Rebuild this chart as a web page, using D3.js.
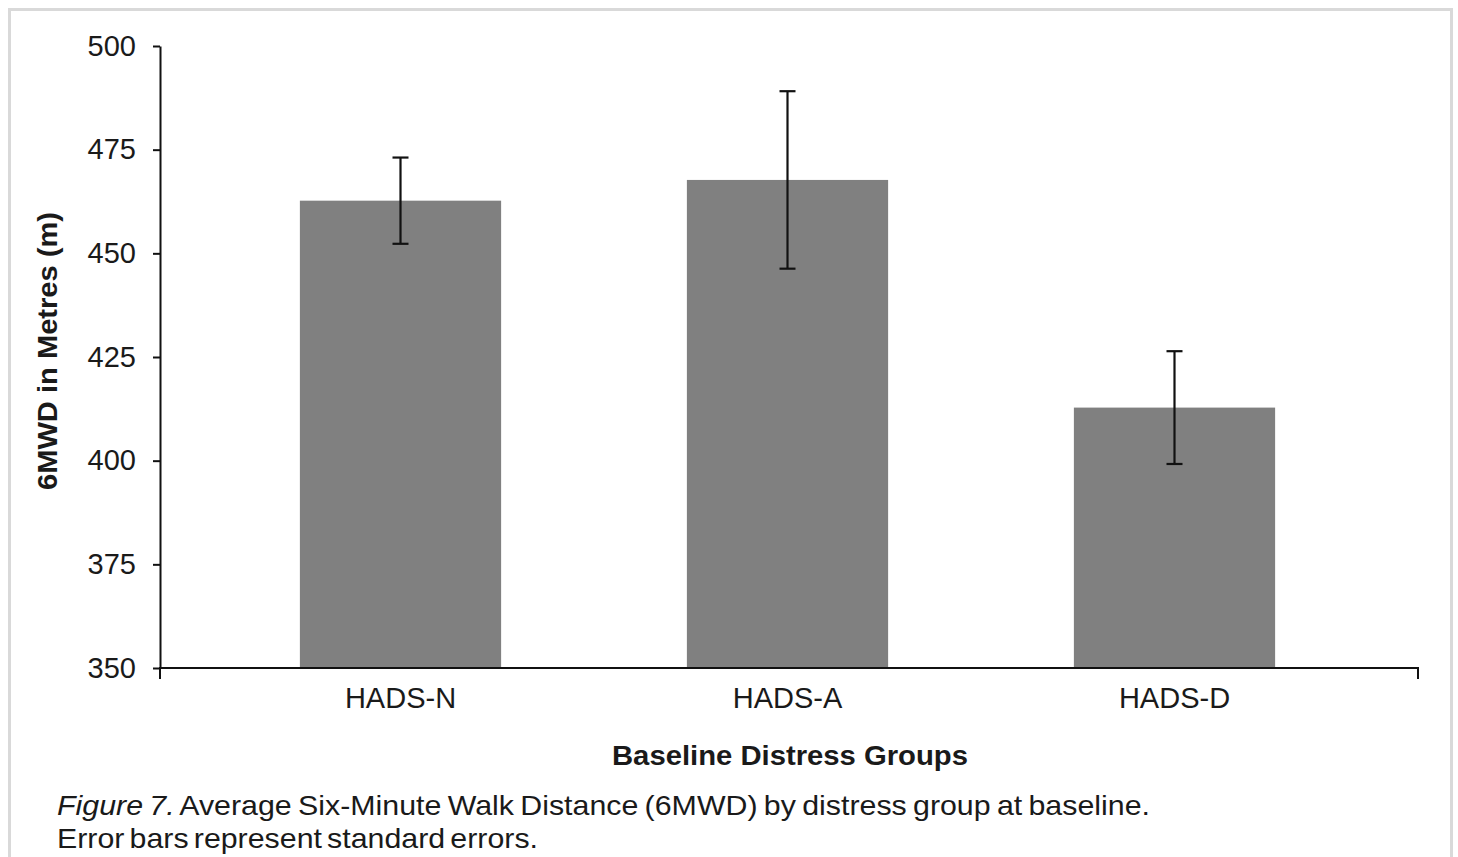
<!DOCTYPE html>
<html>
<head>
<meta charset="utf-8">
<script src="https://cdn.jsdelivr.net/npm/d3@7"></script>
<style>
  body { margin: 0; background: #fff; }
  text { font-family: "Liberation Sans", Arial, Helvetica, sans-serif; fill: #1a1a1a; }
</style>
</head>
<body>
<div id="chart_placeholder"></div>
<script>
// values
var groups = ["HADS-N", "HADS-A", "HADS-D"];
var means = [462.7, 467.7, 412.8];
var stdErrors = [10.4, 21.4, 13.6];
var yTicks = [350, 375, 400, 425, 450, 475, 500];

var W = 1458, H = 857;

var svg = d3.select("#chart_placeholder")
  .append("svg")
  .attr("width", W)
  .attr("height", H);

// light frame round the figure
svg.append("path")
  .attr("d", "M9.5," + H + "V9.5H1451.5V" + H)
  .attr("fill", "none")
  .attr("stroke", "#d9d9d9")
  .attr("stroke-width", 3);

var y = d3.scaleLinear().domain([350, 500]).range([668, 46]);

var x = d3.scaleBand()
  .domain(groups)
  .range([207, 1368])
  .paddingInner(0.48)
  .paddingOuter(0.24);

var data = groups.map(function(g, i) {
  return {group: g, mean: means[i], se: stdErrors[i]};
});

// bars
svg.selectAll("rect.bar")
  .data(data)
  .enter().append("rect")
  .attr("class", "bar")
  .attr("x", function(d) { return x(d.group); })
  .attr("y", function(d) { return y(d.mean); })
  .attr("width", x.bandwidth())
  .attr("height", function(d) { return y(350) - y(d.mean); })
  .attr("fill", "#808080");

// error bars
var eb = svg.selectAll("g.err")
  .data(data)
  .enter().append("g")
  .attr("class", "err")
  .attr("stroke", "#111")
  .attr("stroke-width", 2.2);

eb.append("line")
  .attr("x1", function(d) { return x(d.group) + x.bandwidth() / 2; })
  .attr("x2", function(d) { return x(d.group) + x.bandwidth() / 2; })
  .attr("y1", function(d) { return y(d.mean + d.se); })
  .attr("y2", function(d) { return y(d.mean - d.se); });

[1, -1].forEach(function(s) {
  eb.append("line")
    .attr("x1", function(d) { return x(d.group) + x.bandwidth() / 2 - 8; })
    .attr("x2", function(d) { return x(d.group) + x.bandwidth() / 2 + 8; })
    .attr("y1", function(d) { return y(d.mean + s * d.se); })
    .attr("y2", function(d) { return y(d.mean + s * d.se); });
});

// y axis
var yAxis = svg.append("g")
  .attr("transform", "translate(160,0)")
  .call(d3.axisLeft(y).tickValues(yTicks).tickSize(7).tickSizeOuter(0).tickPadding(17));
yAxis.selectAll("path, line").attr("stroke", "#111").attr("stroke-width", 2);
yAxis.selectAll("text").attr("font-size", 29).attr("font-family", "Liberation Sans, Arial, sans-serif").attr("fill", "#1a1a1a");

// x axis line with end ticks
svg.append("path")
  .attr("d", "M160," + (y(350) + 11) + "V" + y(350) + "H1418V" + (y(350) + 11))
  .attr("stroke", "#111")
  .attr("stroke-width", 2)
  .attr("fill", "none");

var xAxis = svg.append("g")
  .attr("transform", "translate(0," + y(350) + ")")
  .call(d3.axisBottom(x).tickSize(0).tickPadding(19));
xAxis.select(".domain").remove();
xAxis.selectAll("text").attr("font-size", 29).attr("font-family", "Liberation Sans, Arial, sans-serif").attr("fill", "#1a1a1a");

// axis titles
svg.append("text")
  .attr("transform", "translate(57,351) rotate(-90)")
  .attr("text-anchor", "middle")
  .attr("font-size", 28)
  .attr("font-weight", "bold")
  .attr("textLength", 278)
  .attr("lengthAdjust", "spacingAndGlyphs")
  .text("6MWD in Metres (m)");

svg.append("text")
  .attr("x", 790)
  .attr("y", 765)
  .attr("text-anchor", "middle")
  .attr("font-size", 28)
  .attr("font-weight", "bold")
  .attr("textLength", 356)
  .attr("lengthAdjust", "spacingAndGlyphs")
  .text("Baseline Distress Groups");

// caption
var cap1 = svg.append("text")
  .attr("x", 57)
  .attr("y", 815)
  .attr("font-size", 28)
  .attr("word-spacing", -2)
  .attr("textLength", 1093)
  .attr("lengthAdjust", "spacingAndGlyphs");
cap1.append("tspan").attr("font-style", "italic").text("Figure 7.");
cap1.append("tspan").text(" Average Six-Minute Walk Distance (6MWD) by distress group at baseline.");

svg.append("text")
  .attr("x", 57)
  .attr("y", 848)
  .attr("font-size", 28)
  .attr("word-spacing", -3)
  .attr("textLength", 481)
  .attr("lengthAdjust", "spacingAndGlyphs")
  .text("Error bars represent standard errors.");
</script>
</body>
</html>
